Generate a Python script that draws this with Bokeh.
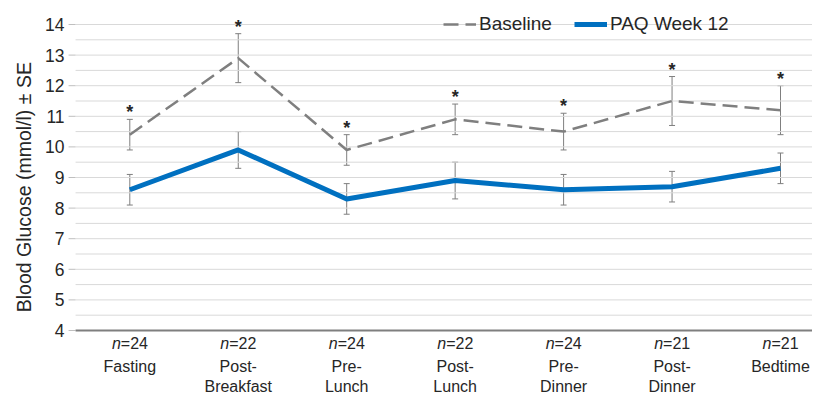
import numpy as np
from bokeh.plotting import figure
from bokeh.models import Range1d, Whisker, ColumnDataSource, Legend, LegendItem, TeeHead
from bokeh.core.properties import value
from bokeh.embed import file_html
from bokeh.resources import INLINE

# ---- data ----
cat_line1 = ["Fasting", "Post-", "Pre-", "Post-", "Pre-", "Post-", "Bedtime"]
cat_line2 = ["", "Breakfast", "Lunch", "Lunch", "Dinner", "Dinner", ""]
n_counts = [24, 22, 24, 22, 24, 21, 21]
baseline_mean = [10.4, 12.9, 9.9, 10.9, 10.5, 11.5, 11.2]
baseline_se = [0.5, 0.8, 0.5, 0.5, 0.6, 0.8, 0.8]
paq_mean = [8.6, 9.9, 8.3, 8.9, 8.6, 8.7, 9.3]
paq_se = [0.5, 0.6, 0.5, 0.6, 0.5, 0.5, 0.5]
y_ticks = [4, 5, 6, 7, 8, 9, 10, 11, 12, 13, 14]
y_grid = [4.5, 5, 5.5, 6, 6.5, 7, 7.5, 8, 8.5, 9, 9.5, 10, 10.5, 11, 11.5, 12, 12.5,
          13, 13.5, 14]
y_label = "Blood Glucose (mmol/l)  \u00b1 SE"
significant = ["*"] * 7

FONT = "Liberation Sans"
TXT = "#262626"

# ---- layout (pixels) ----
W, H = 812, 394
spacing = 108.45      # px between categories
x0_px = 129.3         # px of first category
top_px = 24           # px of value 14
axis_px = 330         # px of value 4
px_unit = (axis_px - top_px) / 10.0
xmin = -x0_px / spacing
xmax = (W - x0_px) / spacing
ymax = 14 + top_px / px_unit
ymin = 4 - (H - axis_px) / px_unit
plot_left = -0.5                     # left edge of plotting area (data units)
tick_len = 7 / spacing
ylab_x = (23.5 - x0_px) / spacing
ylab_y = 14 - (184 - top_px) / px_unit

x = np.arange(len(cat_line1))
bm = np.array(baseline_mean); bs = np.array(baseline_se)
pm = np.array(paq_mean); ps = np.array(paq_se)
y_bottom, y_top = min(y_ticks), max(y_ticks)

src = ColumnDataSource(dict(
    x=x, bm=bm, bu=bm + bs, bl=bm - bs, pm=pm, pu=pm + ps, pl=pm - ps,
    star=significant, l1=cat_line1, l2=cat_line2,
    neq=["=%d" % n for n in n_counts], nn=["n"] * len(n_counts),
    yb=[y_bottom] * len(n_counts),
))

p = figure(width=W, height=H, output_backend="svg", toolbar_location=None,
           x_range=Range1d(xmin, xmax), y_range=Range1d(ymin, ymax),
           x_axis_location=None, y_axis_location=None,
           min_border_left=0, min_border_right=0, min_border_top=0, min_border_bottom=0)
p.outline_line_color = None
p.grid.visible = False
p.background_fill_color = "white"
p.border_fill_color = "white"

# horizontal gridlines
p.segment(x0=plot_left, x1=xmax, y0=y_grid, y1=y_grid, line_color="#d9d9d9", line_width=1)
# y tick marks and labels
p.segment(x0=plot_left - tick_len, x1=plot_left, y0=y_ticks, y1=y_ticks,
          line_color="#bfbfbf", line_width=1)
p.text(x=[plot_left] * len(y_ticks), y=y_ticks, text=[str(t) for t in y_ticks],
       x_offset=-11, text_align="right", text_baseline="middle",
       text_font=value(FONT), text_font_size="17.5px", text_color=TXT)
# x axis line
p.segment(x0=[plot_left], x1=[xmax], y0=[y_bottom], y1=[y_bottom],
          line_color="#7f7f7f", line_width=2)

# y axis title
p.text(x=[ylab_x], y=[ylab_y], text=[y_label], angle=np.pi / 2,
       text_align="center", text_baseline="middle",
       text_font=value(FONT), text_font_size="19.5px", text_color=TXT)

# error bars
for up, lo in (("bu", "bl"), ("pu", "pl")):
    w = Whisker(source=src, base="x", upper=up, lower=lo, line_color="#7f7f7f", line_width=1,
                upper_head=TeeHead(size=6, line_color="#7f7f7f", line_width=1),
                lower_head=TeeHead(size=6, line_color="#7f7f7f", line_width=1))
    p.add_layout(w)

r_base = p.line("x", "bm", source=src, line_color="#7f7f7f", line_width=2.5, line_dash="15 7")
r_paq = p.line("x", "pm", source=src, line_color="#0070c0", line_width=5, line_join="round")

# asterisks
p.text("x", "bu", text="star", source=src, text_align="center", text_baseline="middle",
       y_offset=-7, text_font=value(FONT), text_font_style="bold", text_font_size="18px",
       text_color=TXT)

# n labels
p.text("x", "yb", text="nn", source=src, text_align="right", text_baseline="middle",
       x_offset=-9, y_offset=13, text_font=value(FONT), text_font_style="italic",
       text_font_size="16px", text_color=TXT)
p.text("x", "yb", text="neq", source=src, text_align="left", text_baseline="middle",
       x_offset=-9, y_offset=13, text_font=value(FONT),
       text_font_size="16px", text_color=TXT)
# category labels
p.text("x", "yb", text="l1", source=src, text_align="center", text_baseline="middle",
       y_offset=36, text_font=value(FONT), text_font_size="16px", text_color=TXT)
p.text("x", "yb", text="l2", source=src, text_align="center", text_baseline="middle",
       y_offset=56, text_font=value(FONT), text_font_size="16px", text_color=TXT)

legend = Legend(items=[LegendItem(label="Baseline", renderers=[r_base]),
                       LegendItem(label="PAQ Week 12", renderers=[r_paq])],
                orientation="horizontal", location=(443, 359), padding=0, margin=0,
                spacing=22, label_standoff=3, glyph_width=33, glyph_height=20,
                label_height=20, border_line_color=None, background_fill_alpha=0,
                label_text_font=FONT, label_text_font_size="19px", label_text_color=TXT)
p.add_layout(legend)

open("out.html", "w").write(file_html(p, INLINE))
